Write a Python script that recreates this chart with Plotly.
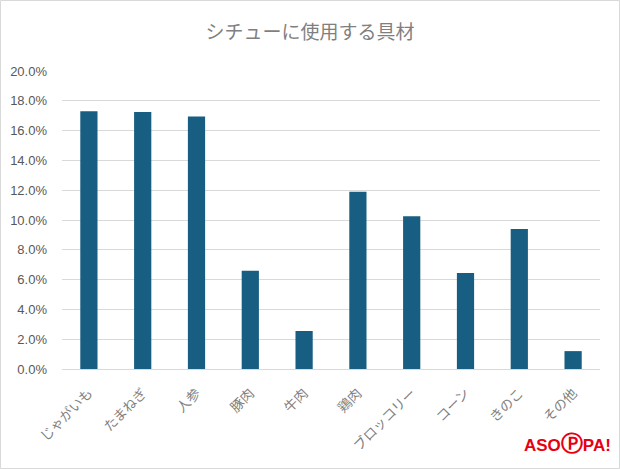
import plotly.graph_objects as go

categories = ["じゃがいも", "たまねぎ", "人参", "豚肉", "牛肉", "鶏肉", "ブロッコリー", "コーン", "きのこ", "その他"]
values = [17.3, 17.25, 16.95, 6.6, 2.55, 11.9, 10.25, 6.45, 9.4, 1.2]
tick_vals = [0, 2, 4, 6, 8, 10, 12, 14, 16, 18, 20]
tick_text = [f"{v:.1f}%" for v in tick_vals]

W, H = 620, 469
L, R, T, B = 62, 20, 71, 100
pw, ph = W - L - R, H - T - B

def px_x(p):
    return (p - L) / pw

def px_y(p):
    return (H - B - p) / ph

fig = go.Figure()
fig.add_trace(go.Bar(x=categories, y=values, marker=dict(color="#175e82", line=dict(width=0)),
                     hoverinfo="skip"))

fig.update_layout(
    width=W, height=H,
    margin=dict(l=L, r=R, t=T, b=B),
    paper_bgcolor="white", plot_bgcolor="white",
    bargap=0.68,
    showlegend=False,
    font=dict(family="Noto Sans CJK JP", color="#595959", size=12),
    title=dict(text="シチューに使用する具材", x=0.5, xanchor="center", y=1 - 32 / H, yanchor="middle",
               font=dict(size=19, color="#7f7f7f", family="Noto Sans CJK JP")),
    xaxis=dict(tickangle=-45, showgrid=False, showline=True, linecolor="#d9d9d9", linewidth=1,
               ticks="", ticklabelstandoff=10, automargin=False,
               tickfont=dict(size=13.5, color="#7f7f7f", family="Noto Sans CJK JP")),
    yaxis=dict(range=[0, 20], tickvals=tick_vals, ticktext=tick_text, showgrid=True,
               gridcolor="#d9d9d9", gridwidth=1, zeroline=False, showline=False, ticks="",
               ticklabelstandoff=14, automargin=False,
               tickfont=dict(size=13, color="#595959", family="Liberation Sans")),
)

# outer border
fig.add_shape(type="rect", xref="paper", yref="paper",
              x0=px_x(0.5), x1=px_x(W - 0.5), y0=px_y(H - 0.5), y1=px_y(0.5),
              line=dict(color="#d9d9d9", width=1), layer="above")

# logo text
fig.add_annotation(text="<b>ASO<span style='font-size:22px'>Ⓟ</span>PA!</b>", xref="paper", yref="paper",
                   x=px_x(613), y=px_y(443), xanchor="right", yanchor="middle", showarrow=False,
                   font=dict(size=17, color="#e60012", family="Liberation Sans"))

fig.write_html("out.html", config={"displayModeBar": False},
               post_script="document.body.style.margin='0';")
